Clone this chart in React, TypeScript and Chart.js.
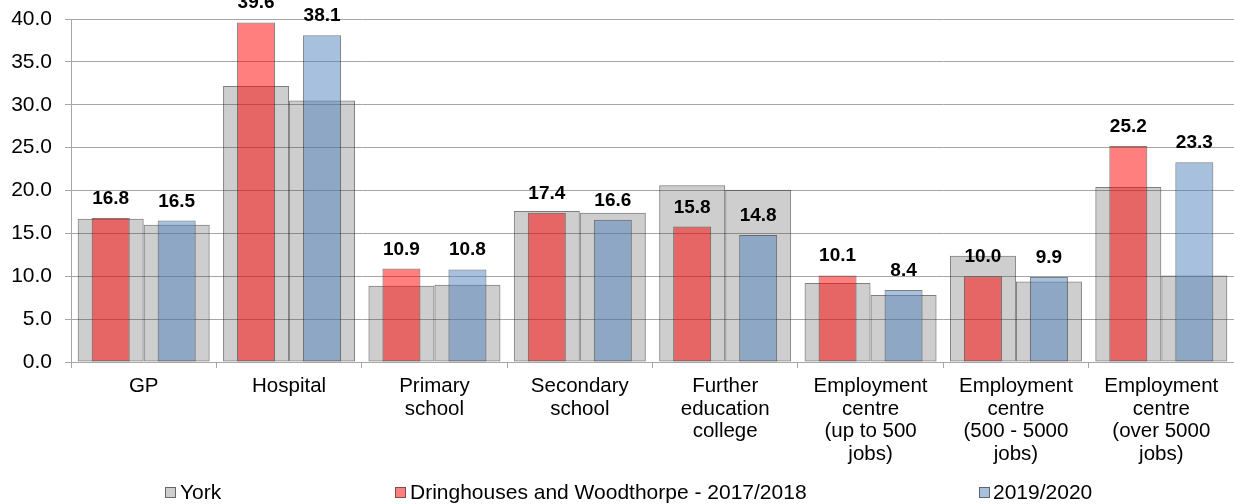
import React, { useEffect, useRef } from 'react';
import { Chart, registerables } from 'chart.js';

Chart.register(...registerables);

// ---- data ----
const categories: string[][] = [
  ['GP'],
  ['Hospital'],
  ['Primary', 'school'],
  ['Secondary', 'school'],
  ['Further', 'education', 'college'],
  ['Employment', 'centre', '(up to 500', 'jobs)'],
  ['Employment', 'centre', '(500 - 5000', 'jobs)'],
  ['Employment', 'centre', '(over 5000', 'jobs)'],
];
const seriesNames = ['York', 'Dringhouses and Woodthorpe - 2017/2018', '2019/2020'];
const york2017 = [16.7, 32.2, 8.9, 17.6, 20.6, 9.2, 12.4, 20.4];
const york2019 = [16.0, 30.5, 9.0, 17.4, 20.1, 7.8, 9.4, 10.1];
const ward2017 = [16.8, 39.6, 10.9, 17.4, 15.8, 10.1, 10.0, 25.2];
const ward2019 = [16.5, 38.1, 10.8, 16.6, 14.8, 8.4, 9.9, 23.3];
const yMin = 0;
const yMax = 40;
const yStep = 5;

// ---- styles ----
const FONT = "'Liberation Sans', Arial, sans-serif";
const GREY_FILL = 'rgba(60,60,60,0.25)';
const RED_FILL = 'rgba(255,0,0,0.5)';
const BLUE_FILL = 'rgba(79,129,189,0.5)';
const BAR_BORDER = 'rgba(40,40,40,0.6)';
const GRID = '#a6a6a6';

const legendLayout = [
  { box: 165, text: 180, fill: GREY_FILL },
  { box: 395, text: 410, fill: RED_FILL },
  { box: 979, text: 993, fill: BLUE_FILL },
];

const valueLabels = {
  id: 'valueLabels',
  afterDatasetsDraw(chart: any) {
    const ctx = chart.ctx;
    ctx.save();
    ctx.font = `bold 19px ${FONT}`;
    ctx.fillStyle = '#000';
    ctx.textAlign = 'center';
    ctx.textBaseline = 'alphabetic';
    chart.data.datasets.forEach((ds: any, di: number) => {
      if (!ds.showValues) return;
      const meta = chart.getDatasetMeta(di);
      meta.data.forEach((el: any, i: number) => {
        ctx.fillText(Number(ds.data[i]).toFixed(1), el.x, el.y - 14);
      });
    });
    ctx.restore();
  },
};

const customLegend = {
  id: 'customLegend',
  afterDraw(chart: any) {
    const ctx = chart.ctx;
    ctx.save();
    ctx.font = `21px ${FONT}`;
    ctx.textBaseline = 'middle';
    ctx.textAlign = 'left';
    seriesNames.forEach((name, i) => {
      const l = legendLayout[i];
      ctx.fillStyle = '#fff';
      ctx.fillRect(l.box, 487, 11, 11);
      ctx.fillStyle = l.fill;
      ctx.fillRect(l.box, 487, 11, 11);
      ctx.strokeStyle = 'rgba(60,60,60,0.7)';
      ctx.lineWidth = 1;
      ctx.strokeRect(l.box + 0.5, 487.5, 10, 10);
      ctx.fillStyle = '#000';
      ctx.fillText(name, l.text, 493);
    });
    ctx.restore();
  },
};

export default function App() {
  const ref = useRef<HTMLCanvasElement | null>(null);
  useEffect(() => {
    document.body.style.margin = '0';
    const canvas = ref.current!;
    const barBase = { borderColor: BAR_BORDER, borderWidth: 1, borderSkipped: false as const, categoryPercentage: 0.908 };
    const chart = new Chart(canvas, {
      type: 'bar',
      data: {
        labels: categories,
        datasets: [
          { ...barBase, label: seriesNames[0], data: york2017, backgroundColor: GREY_FILL, stack: 'a', order: 1, barPercentage: 1.0 } as any,
          { ...barBase, label: seriesNames[1], data: ward2017, backgroundColor: RED_FILL, stack: 'a', order: 0, barPercentage: 0.576, showValues: true } as any,
          { ...barBase, label: seriesNames[2], data: ward2019, backgroundColor: BLUE_FILL, stack: 'b', order: 0, barPercentage: 0.576, showValues: true } as any,
          { ...barBase, label: seriesNames[0] + ' 2019/2020', data: york2019, backgroundColor: GREY_FILL, stack: 'b', order: 1, barPercentage: 1.0 } as any,
        ],
      },
      options: {
        responsive: false,
        animation: false,
        devicePixelRatio: 1,
        layout: { padding: { top: 19, right: 0, bottom: 0, left: 0 } },
        plugins: {
          legend: { display: false },
          tooltip: { enabled: false },
        },
        scales: {
          x: {
            type: 'category',
            offset: true,
            grid: { display: true, drawOnChartArea: false, drawTicks: true, tickLength: 6, color: GRID },
            border: { display: true, color: GRID },
            ticks: {
              color: '#000',
              font: { family: FONT, size: 20.5, lineHeight: 1.107 },
              padding: 7,
              maxRotation: 0,
              autoSkip: false,
            },
            afterFit: (s: any) => { s.height = 142; s.paddingLeft = 0; s.paddingRight = 0; },
          },
          y: {
            min: yMin,
            max: yMax,
            stacked: false,
            ticks: {
              stepSize: yStep,
              color: '#000',
              font: { family: FONT, size: 21 },
              padding: 13,
              callback: (v: any) => Number(v).toFixed(1),
            },
            grid: { color: GRID, tickLength: 6, drawTicks: true },
            border: { display: true, color: GRID },
            afterFit: (s: any) => { s.width = 71; s.paddingTop = 0; s.paddingBottom = 0; },
          },
        },
      },
      plugins: [valueLabels, customLegend],
    });
    return () => chart.destroy();
  }, []);
  return (
    <div style={{ width: 1234, height: 504 }}>
      <canvas ref={ref} width={1234} height={504} style={{ display: 'block', width: 1234, height: 504 }} />
    </div>
  );
}
